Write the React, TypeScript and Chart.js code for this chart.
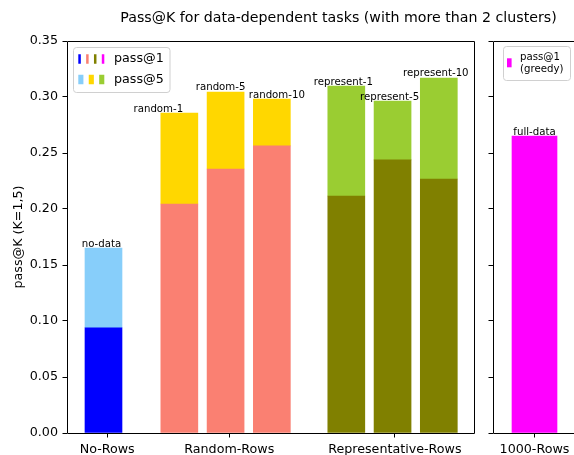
import React, { useEffect, useRef } from "react";
import { Chart, registerables } from "chart.js";

Chart.register(...registerables);

const FONT = "'DejaVu Sans', 'Liberation Sans', sans-serif";

// ---------------- data ----------------
const titleText = "Pass@K for data-dependent tasks (with more than 2 clusters)";
const yAxisTitle = "pass@K (K=1,5)";
const groupLabels = ["No-Rows", "Random-Rows", "Representative-Rows"];
const groupTickPositions = [0.08, 2.72, 6.3];
const barNames = ["no-data", "random-1", "random-5", "random-10", "represent-1", "represent-5", "represent-10"];
const barPositions = [0, 1.64, 2.64, 3.64, 5.25, 6.25, 7.25];
const pass1Values = [0.094, 0.2045, 0.2357, 0.2563, 0.2116, 0.2438, 0.2268];
const pass5Values = [0.165, 0.2857, 0.3045, 0.2982, 0.3098, 0.2964, 0.317];
const pass1Colors = ["#0000ff", "#fa8072", "#fa8072", "#fa8072", "#808000", "#808000", "#808000"];
const pass5Colors = ["#87cefa", "#ffd700", "#ffd700", "#ffd700", "#9acd32", "#9acd32", "#9acd32"];
const fullGroupLabel = "1000-Rows";
const fullBarName = "full-data";
const fullPass1Value = 0.265;
const fullColor = "#ff00ff";
const yTickValues = [0, 0.05, 0.1, 0.15, 0.2, 0.25, 0.3, 0.35];
const legendLabels = ["pass@1", "pass@5"];
const greedyLegendLines = ["pass@1", "(greedy)"];

// ---------------- layout ----------------
const W = 574;
const H = 455;
const TOP = 41;
const BOTTOM = 433;
const LEFT_L = 67;
const RIGHT_L = 474;
const LEFT_R = 493;
const RIGHT_R = 576;
const RIGHT_CANVAS_W = 620;
const TICK_FONT = 12.7;
const SMALL_FONT = 10.2;
// horizontal nudges (px) of the bar annotations, as placed in the original
const labelNudgeLeft = [-2, -21, -5, 5, -3, -3, -3];
const labelNudgeRight = [0];

const align = (p: number) => Math.round(p - 0.5) + 0.5;

function uniq(a: string[]) {
  return a.filter((v, i) => a.indexOf(v) === i);
}

function drawSpines(ctx: CanvasRenderingContext2D, a: any) {
  ctx.save();
  ctx.strokeStyle = "#000";
  ctx.lineWidth = 1;
  const l = align(a.left), r = align(a.right), t = align(a.top), b = align(a.bottom);
  ctx.beginPath();
  ctx.moveTo(l, t); ctx.lineTo(r, t); ctx.lineTo(r, b); ctx.lineTo(l, b); ctx.closePath();
  ctx.stroke();
  ctx.restore();
}

function roundRect(ctx: CanvasRenderingContext2D, x: number, y: number, w: number, h: number, r: number) {
  ctx.beginPath();
  ctx.moveTo(x + r, y);
  ctx.lineTo(x + w - r, y);
  ctx.arcTo(x + w, y, x + w, y + r, r);
  ctx.lineTo(x + w, y + h - r);
  ctx.arcTo(x + w, y + h, x + w - r, y + h, r);
  ctx.lineTo(x + r, y + h);
  ctx.arcTo(x, y + h, x, y + h - r, r);
  ctx.lineTo(x, y + r);
  ctx.arcTo(x, y, x + r, y, r);
  ctx.closePath();
}

function drawBarLabels(chart: any, datasetIndex: number, names: string[], nudges: number[]) {
  const ctx = chart.ctx as CanvasRenderingContext2D;
  const meta = chart.getDatasetMeta(datasetIndex);
  ctx.save();
  ctx.fillStyle = "#000";
  ctx.font = `${SMALL_FONT}px ${FONT}`;
  ctx.textAlign = "center";
  ctx.textBaseline = "alphabetic";
  meta.data.forEach((el: any, i: number) => {
    const top = Math.min(el.y, el.base);
    ctx.fillText(names[i], el.x + (nudges[i] || 0), top - 1.5);
  });
  ctx.restore();
}

const leftPlugin = {
  id: "leftDecor",
  afterDraw(chart: any) {
    const ctx = chart.ctx as CanvasRenderingContext2D;
    drawSpines(ctx, chart.chartArea);
    drawBarLabels(chart, 1, barNames, labelNudgeLeft);

    // title
    ctx.save();
    ctx.fillStyle = "#000";
    ctx.font = `14.2px ${FONT}`;
    ctx.textAlign = "center";
    ctx.textBaseline = "middle";
    ctx.fillText(titleText, 338.5, 18);
    ctx.restore();

    // y axis title
    ctx.save();
    ctx.translate(19, (TOP + BOTTOM) / 2);
    ctx.rotate(-Math.PI / 2);
    ctx.fillStyle = "#000";
    ctx.font = `${TICK_FONT}px ${FONT}`;
    ctx.textAlign = "center";
    ctx.textBaseline = "middle";
    ctx.fillText(yAxisTitle, 0, 0);
    ctx.restore();

    // legend
    ctx.save();
    roundRect(ctx, 73.5, 47.5, 96.5, 45, 3);
    ctx.fillStyle = "rgba(255,255,255,0.8)";
    ctx.fill();
    ctx.strokeStyle = "#d0d0d0";
    ctx.lineWidth = 1;
    ctx.stroke();
    const rows = [
      { colors: uniq(pass1Colors).concat([fullColor]), label: legendLabels[0], cy: 59 },
      { colors: uniq(pass5Colors), label: legendLabels[1], cy: 79.5 },
    ];
    const hx = 78.3, hw = 26, pad = 5.33, hh = 9.5;
    rows.forEach((row) => {
      const n = row.colors.length;
      const w = (hw - pad * (n - 1)) / n;
      row.colors.forEach((c, i) => {
        ctx.fillStyle = c;
        ctx.fillRect(hx + i * (w + pad), row.cy - hh / 2, w, hh);
      });
      ctx.fillStyle = "#000";
      ctx.font = `${TICK_FONT}px ${FONT}`;
      ctx.textAlign = "left";
      ctx.textBaseline = "middle";
      ctx.fillText(row.label, 114, row.cy);
    });
    ctx.restore();
  },
};

const rightPlugin = {
  id: "rightDecor",
  afterDraw(chart: any) {
    const ctx = chart.ctx as CanvasRenderingContext2D;
    drawSpines(ctx, chart.chartArea);
    drawBarLabels(chart, 0, [fullBarName], labelNudgeRight);

    ctx.save();
    roundRect(ctx, 503.5, 46.5, 67, 34, 3);
    ctx.fillStyle = "rgba(255,255,255,0.8)";
    ctx.fill();
    ctx.strokeStyle = "#d0d0d0";
    ctx.lineWidth = 1;
    ctx.stroke();
    ctx.fillStyle = fullColor;
    ctx.fillRect(507, 58.3, 4.6, 9);
    ctx.fillStyle = "#000";
    ctx.font = `${SMALL_FONT}px ${FONT}`;
    ctx.textAlign = "left";
    ctx.textBaseline = "middle";
    greedyLegendLines.forEach((t, i) => ctx.fillText(t, 520, 57 + i * 12));
    ctx.restore();
  },
};

function yScale(showLabels: boolean, width: number) {
  return {
    type: "linear",
    min: 0,
    max: 0.35,
    afterBuildTicks: (s: any) => {
      s.ticks = yTickValues.map((v) => ({ value: v }));
    },
    afterFit: (s: any) => {
      s.width = width;
    },
    ticks: {
      callback: (v: any) => (showLabels ? Number(v).toFixed(2) : ""),
      color: "#000",
      font: { family: FONT, size: TICK_FONT },
      padding: 4.5,
      autoSkip: false,
    },
    grid: {
      drawOnChartArea: false,
      drawTicks: true,
      tickLength: 4.5,
      color: "#000",
      tickColor: "#000",
      lineWidth: 1,
    },
    border: { display: false },
  };
}

function xScale(min: number, max: number, positions: number[], labels: string[]) {
  return {
    type: "linear",
    min,
    max,
    offset: false,
    afterBuildTicks: (s: any) => {
      s.ticks = positions.map((v) => ({ value: v }));
    },
    afterFit: (s: any) => {
      s.height = H - BOTTOM;
    },
    ticks: {
      callback: (_v: any, i: number) => labels[i],
      color: "#000",
      font: { family: FONT, size: TICK_FONT },
      padding: 4.3,
      autoSkip: false,
      maxRotation: 0,
      minRotation: 0,
    },
    grid: {
      offset: false,
      drawOnChartArea: false,
      drawTicks: true,
      tickLength: 4.5,
      color: "#000",
      tickColor: "#000",
      lineWidth: 1,
    },
    border: { display: false },
  };
}

export default function App() {
  const leftRef = useRef<HTMLCanvasElement>(null);
  const rightRef = useRef<HTMLCanvasElement>(null);

  useEffect(() => {
    const left = new Chart(leftRef.current as HTMLCanvasElement, {
      type: "bar",
      data: {
        datasets: [
          {
            label: "pass@1",
            data: barPositions.map((x, i) => ({ x, y: pass1Values[i] })),
            backgroundColor: pass1Colors,
            borderWidth: 0,
            barThickness: 37,
            grouped: false,
          } as any,
          {
            label: "pass@5",
            data: barPositions.map((x, i) => ({ x, y: [pass1Values[i], pass5Values[i]] })),
            backgroundColor: pass5Colors,
            borderWidth: 0,
            barThickness: 37,
            grouped: false,
          } as any,
        ],
      },
      options: {
        responsive: false,
        animation: false,
        devicePixelRatio: 1,
        layout: { padding: { top: TOP, right: W - RIGHT_L, bottom: 0, left: 0 } },
        plugins: { legend: { display: false }, tooltip: { enabled: false }, title: { display: false } },
        scales: {
          x: xScale(-0.789, 8.011, groupTickPositions, groupLabels) as any,
          y: yScale(true, LEFT_L) as any,
        },
      },
      plugins: [leftPlugin],
    });

    const right = new Chart(rightRef.current as HTMLCanvasElement, {
      type: "bar",
      data: {
        datasets: [
          {
            label: "pass@1 (greedy)",
            data: [{ x: 0, y: fullPass1Value }],
            backgroundColor: [fullColor],
            borderWidth: 0,
            barThickness: 45,
            grouped: false,
          } as any,
        ],
      },
      options: {
        responsive: false,
        animation: false,
        devicePixelRatio: 1,
        layout: { padding: { top: TOP, right: RIGHT_CANVAS_W - RIGHT_R, bottom: 0, left: 0 } },
        plugins: { legend: { display: false }, tooltip: { enabled: false }, title: { display: false } },
        scales: {
          x: xScale(-0.74, 0.74, [0], [fullGroupLabel]) as any,
          y: yScale(false, LEFT_R) as any,
        },
      },
      plugins: [rightPlugin],
    });

    return () => {
      left.destroy();
      right.destroy();
    };
  }, []);

  return (
    <div
      style={{
        position: "fixed",
        left: 0,
        top: 0,
        width: W,
        height: H,
        overflow: "hidden",
        background: "#fff",
      }}
    >
      <canvas ref={leftRef} width={W} height={H} style={{ position: "absolute", left: 0, top: 0 }} />
      <canvas
        ref={rightRef}
        width={RIGHT_CANVAS_W}
        height={H}
        style={{ position: "absolute", left: 0, top: 0 }}
      />
    </div>
  );
}
